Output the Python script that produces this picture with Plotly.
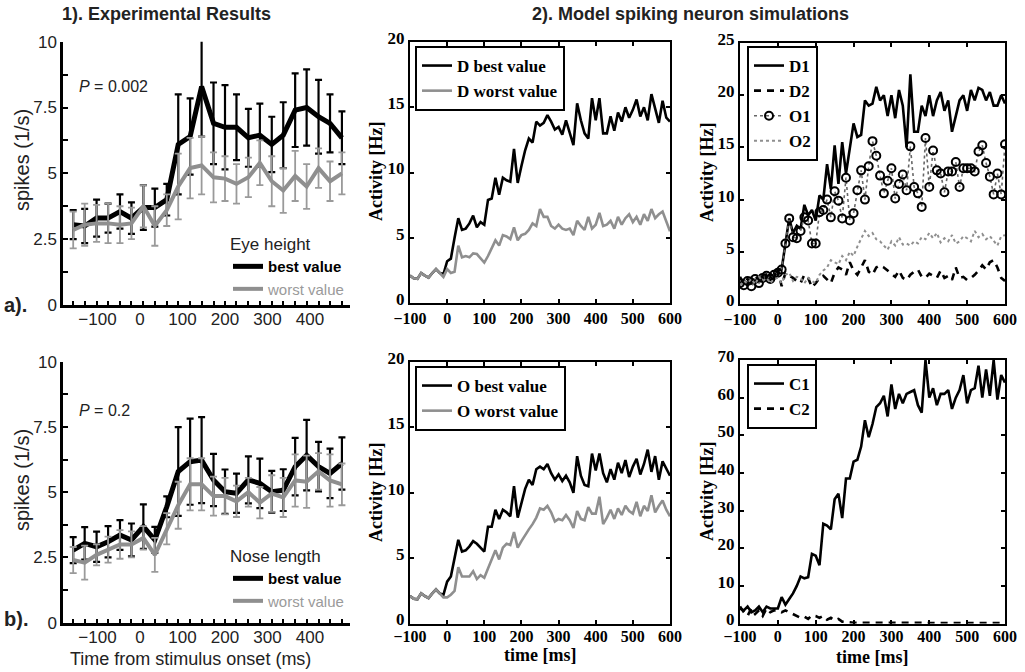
import plotly.graph_objects as go

W, H = 1025, 672

# ---------------- experimental data (mean firing rate, error) ----------------
T_EXP = [-157, -130, -102, -75, -47, -20, 8, 35, 63, 90, 118, 145,
         173, 200, 227, 255, 282, 310, 337, 365, 392, 420, 447, 475]

EYE_BEST = [3.05, 3.0, 3.3, 3.3, 3.55, 3.3, 3.7, 3.7, 4.0, 6.1, 6.4, 8.3,
            6.9, 6.75, 6.75, 6.35, 6.45, 6.1, 6.45, 7.4, 7.5, 7.15, 6.9, 6.35]
EYE_BEST_ERR = [0.55, 0.65, 0.7, 0.55, 0.65, 0.6, 0.85, 0.72, 0.6, 1.9, 1.45, 1.9,
                1.55, 1.6, 1.25, 1.1, 1.2, 1.05, 1.25, 1.4, 1.45, 1.4, 1.1, 1.0]
EYE_WORST = [2.85, 3.05, 3.1, 3.1, 3.05, 3.1, 3.75, 3.0, 3.6, 4.5, 5.2, 5.3,
             4.85, 4.8, 4.6, 4.85, 5.4, 4.7, 4.35, 4.9, 4.5, 5.2, 4.7, 5.0]
EYE_WORST_ERR = [0.7, 0.8, 0.7, 0.75, 0.7, 0.6, 0.8, 0.75, 0.6, 1.25, 1.15, 1.1,
                 0.95, 0.85, 0.75, 0.75, 0.85, 0.95, 0.85, 0.95, 0.85, 0.75, 0.75, 0.8]

NOSE_BEST = [2.78, 3.04, 2.91, 3.1, 3.36, 3.17, 3.68, 3.17, 4.44, 5.79, 6.17, 6.23,
             5.47, 5.02, 4.96, 5.47, 5.34, 5.02, 5.08, 5.98, 6.42, 5.98, 5.72, 6.1]
NOSE_BEST_ERR = [0.5, 0.62, 0.58, 0.6, 0.57, 0.63, 0.85, 0.5, 0.4, 1.7, 1.65, 1.65,
                 1.0, 0.85, 0.75, 0.9, 0.95, 0.8, 0.8, 1.1, 1.35, 0.95, 0.95, 1.0]
NOSE_WORST = [2.4, 2.3, 2.6, 2.8, 3.0, 3.0, 3.25, 2.6, 3.6, 4.5, 5.3, 5.3,
              4.85, 4.85, 4.65, 5.0, 4.6, 4.95, 4.8, 5.45, 5.4, 5.8, 5.45, 5.3]
NOSE_WORST_ERR = [0.5, 0.65, 0.4, 0.5, 0.55, 0.5, 0.45, 0.65, 0.6, 0.9, 1.0, 1.0,
                  0.75, 0.7, 0.6, 0.55, 0.6, 0.7, 0.75, 1.0, 1.0, 0.7, 1.0, 0.8]

EXP_XTICKS = [-100, 0, 100, 200, 300, 400]
EXP_YTICKS = [0, 2.5, 5, 7.5, 10]
EXP_YLABELS = ["0", "2.5", "5", "7.5", "10"]

# ---------------- model simulations, sampled every 10 ms ----------------
T_MODEL = list(range(-100, 601, 10))

D_BEST = [2.1, 1.9, 1.85, 2.3, 2.1, 1.95, 2.3, 2.6, 2.3, 2.2,
          3.2, 3.4, 5.0, 6.5, 5.6, 5.7, 6.1, 6.7, 5.8, 6.2,
          6.0, 7.9, 8.0, 9.6, 8.3, 9.6, 9.4, 9.3, 11.8, 9.2,
          10.5, 11.7, 12.6, 12.3, 13.9, 13.6, 13.8, 14.4, 13.9, 13.3,
          13.5, 12.9, 14.0, 13.0, 12.1, 15.3, 14.0, 13.0, 12.6, 15.7,
          14.0, 15.7, 13.0, 13.0, 14.3, 13.2, 14.6, 13.9, 15.0, 14.2,
          14.8, 15.6, 14.3, 15.0, 14.0, 16.0, 15.0, 13.8, 15.5, 14.2, 13.9]
D_WORST = [2.1, 1.9, 1.85, 2.3, 2.1, 1.95, 2.3, 2.6, 2.3, 2.0,
           2.6, 2.3, 2.4, 4.4, 3.5, 3.6, 3.5, 3.8, 3.75, 3.4,
           3.1, 3.6, 4.2, 4.8, 4.4, 5.2, 5.1, 4.9, 5.8, 4.8,
           5.2, 5.3, 5.6, 6.1, 5.9, 7.2, 6.6, 6.6, 5.9, 5.7,
           6.0, 5.7, 5.6, 5.7, 5.2, 6.3, 5.9, 5.6, 6.6, 5.7,
           6.0, 6.9, 5.9, 6.0, 6.3, 5.7, 6.6, 6.0, 6.5, 6.8,
           6.2, 6.6, 6.0, 6.8, 6.3, 7.2, 6.5, 6.8, 7.0, 6.3, 5.5]

O_BEST = [2.1, 1.9, 1.85, 2.3, 2.1, 1.95, 2.3, 2.6, 2.3, 2.2,
          3.2, 3.6, 5.0, 6.4, 5.5, 5.6, 5.9, 6.3, 6.1, 5.8,
          5.5, 7.4, 7.4, 8.7, 8.0, 8.7, 8.5, 8.2, 10.5, 8.1,
          9.3, 10.3, 11.0, 10.6, 11.8, 12.0, 11.8, 12.2, 11.5, 11.0,
          11.4, 10.9, 11.3, 10.8, 10.0, 12.8, 11.3, 10.6, 10.5, 13.0,
          11.7, 13.0, 11.5, 10.8, 11.8, 11.0, 12.3, 11.5, 12.5, 11.2,
          12.0, 12.6, 11.4, 12.2, 13.3, 11.6, 12.8, 11.0, 12.4, 11.8, 11.3]
O_WORST = [2.1, 1.9, 1.85, 2.3, 2.1, 1.95, 2.3, 2.6, 2.3, 2.0,
           2.0, 2.2, 2.5, 4.3, 3.6, 3.6, 3.6, 4.0, 3.4, 3.7,
           3.5, 4.2, 4.9, 5.6, 4.9, 5.8, 6.1, 6.0, 7.0, 5.8,
           6.3, 6.8, 7.2, 7.6, 8.1, 8.8, 8.7, 9.0, 8.5, 7.8,
           8.0, 7.9, 8.3, 7.9, 7.3, 8.6, 8.0, 7.9, 8.9, 8.4,
           8.4, 9.7, 7.6, 8.1, 8.7, 8.0, 8.8, 8.3, 9.0, 8.6,
           8.4, 9.3, 8.2, 9.0, 8.6, 9.8, 8.5, 9.0, 9.4, 8.7, 8.2]

D1 = [2.0, 2.2, 1.8, 2.5, 2.1, 2.3, 2.7, 2.5, 2.9, 2.6,
      3.2, 3.3, 5.8, 8.2, 6.8, 7.5, 7.2, 9.5, 8.5, 9.0,
      8.0, 10.4, 10.0, 13.4, 11.0, 15.2, 11.5, 15.5, 12.5, 15.0,
      17.3, 16.0, 16.2, 19.5, 19.0, 19.2, 20.8, 19.5, 20.0, 18.0,
      20.0, 17.8, 20.5, 19.0, 15.0, 22.0, 16.5, 16.5, 19.0, 18.0,
      20.0, 18.0, 19.5, 20.3, 18.5, 19.5, 16.5, 18.0, 19.5, 20.0,
      18.5, 20.5, 19.5, 20.7, 20.5, 19.5, 20.3, 19.0, 19.0, 20.0, 19.2]
D2 = [2.6, 1.9, 2.4, 1.6, 2.8, 2.2, 2.0, 2.9, 2.3, 2.5,
      3.3, 1.7, 3.0, 2.7, 2.5, 2.2, 2.0, 2.8, 2.5, 1.6,
      2.0, 2.5, 2.7, 2.3, 2.0, 3.0, 3.5, 3.3, 2.8, 4.0,
      3.2, 2.8, 3.5, 4.2, 3.1, 2.8, 3.5, 3.7, 3.5, 3.2,
      2.9, 2.6, 3.2, 2.5, 2.3, 2.8, 3.1, 3.3, 2.6, 2.5,
      2.9, 2.7, 2.5, 3.2, 2.5, 2.7, 2.3, 3.5, 2.5, 2.6,
      2.3, 2.5, 2.8, 3.2, 3.7, 3.3, 4.0, 4.2, 3.5, 2.5, 2.2]
O1 = [2.0, 1.8, 2.2, 1.7, 2.4, 2.0, 2.5, 2.7, 2.4, 2.8,
      3.0, 3.3, 5.8, 8.2, 6.4, 6.3, 7.0, 8.3, 8.0, 5.8,
      5.8, 8.8, 9.0, 10.0, 8.3, 10.8, 9.9, 8.2, 12.1, 8.0,
      8.7, 10.9, 12.8, 10.0, 13.2, 15.6, 14.2, 12.3, 10.6, 11.8,
      13.0, 10.1, 11.5, 12.4, 10.9, 15.1, 11.2, 10.6, 9.3, 15.9,
      11.2, 14.7, 12.8, 12.5, 10.7, 12.7, 12.7, 13.6, 11.2, 13.0,
      13.0, 13.0, 12.7, 14.6, 15.2, 13.5, 12.2, 10.5, 12.5, 10.5, 15.3]
O2 = [1.8, 2.2, 2.0, 2.4, 1.9, 2.6, 2.2, 2.5, 2.0, 2.4,
      2.5, 2.0, 2.8, 3.0, 2.2, 2.6, 2.5, 2.0, 2.5, 2.2,
      2.0, 2.8, 3.2, 3.5, 4.2, 4.0, 3.8, 4.6, 4.2, 5.0,
      4.6, 5.5, 6.2, 7.0, 6.5, 6.8, 6.2, 6.0, 5.6, 5.2,
      6.0, 5.6, 6.4, 5.7, 5.8, 5.6, 6.0, 5.8, 6.4, 6.2,
      6.8, 6.3, 6.8, 5.9, 6.3, 6.0, 6.6, 5.8, 6.0, 6.5,
      6.3, 6.0, 7.0, 6.4, 6.7, 6.2, 6.5, 6.0, 5.6, 6.5, 6.6]

C1 = [4.0, 3.5, 4.5, 3.0, 3.5, 4.5, 3.0, 4.5, 4.0, 4.0,
      4.0, 7.0, 5.0, 6.5, 8.0, 10.0, 12.5, 12.0, 12.3, 18.5,
      18.0, 15.5, 26.5, 26.0, 25.0, 33.0, 34.5, 28.0, 38.5, 38.5,
      43.0, 43.5, 47.0, 54.0, 49.5, 53.0, 57.5, 58.5, 60.5, 55.0,
      63.5, 57.0, 61.0, 58.5, 61.0, 61.5, 62.0, 58.0, 56.0, 70.0,
      60.0, 62.5, 58.0, 61.0, 61.0, 62.0, 57.0, 60.0, 62.0, 66.0,
      58.5, 62.0, 62.5, 68.5, 60.0, 67.5, 60.5, 70.0, 59.5, 66.0, 64.0]
C2 = [4.5, 3.0, 2.0, 4.0, 2.5, 3.5, 2.0, 4.0, 3.0, 3.5,
      3.5, 3.0, 3.5, 3.0, 2.5, 2.0, 1.5, 1.8, 1.2, 2.2,
      2.0, 1.5, 2.0, 1.0, 1.5, 0.8, 1.2, 0.5, 0.3, 0.3,
      0.2, 0.2, 0.1, 0.2, 0.1, 0.1, 0.2, 0.1, 0.1, 0.2,
      0.1, 0.1, 0.2, 0.1, 0.1, 0.1, 0.2, 0.1, 0.1, 0.1,
      0.2, 0.1, 0.1, 0.1, 0.1, 0.2, 0.1, 0.1, 0.1, 0.1,
      0.1, 0.2, 0.1, 0.1, 0.1, 0.1, 0.1, 0.2, 0.1, 0.1, 0.1]

MODEL_XTICKS = [-100, 0, 100, 200, 300, 400, 500, 600]

# ---------------- styling ----------------
SANS = "Liberation Sans, Arial, sans-serif"
SERIF = "Liberation Serif, Times New Roman, serif"
GRAY = "#8f8f8f"
LGRAY = "#9a9a9a"


def px_x(a, b):
    return [a / W, b / W]


def px_y(top, bottom):
    return [1 - bottom / H, 1 - top / H]


fig = go.Figure()


def exp_panel(ax, leg, best, best_err, worst, worst_err):
    xa, ya = "x" + ax, "y" + ax
    fig.add_trace(go.Scatter(
        x=T_EXP, y=best, xaxis=xa, yaxis=ya, mode="lines",
        name="<b>best value</b>", legend=leg,
        line=dict(color="black", width=5),
        error_y=dict(type="data", array=best_err, color="black",
                     thickness=2.2, width=3.5)))
    fig.add_trace(go.Scatter(
        x=T_EXP, y=worst, xaxis=xa, yaxis=ya, mode="lines",
        name="<span style='color:%s'>worst value</span>" % LGRAY, legend=leg,
        line=dict(color=GRAY, width=4),
        error_y=dict(type="data", array=worst_err, color=LGRAY,
                     thickness=1.8, width=3.5)))


exp_panel("", "legend", EYE_BEST, EYE_BEST_ERR, EYE_WORST, EYE_WORST_ERR)
exp_panel("4", "legend4", NOSE_BEST, NOSE_BEST_ERR, NOSE_WORST, NOSE_WORST_ERR)

# middle column: D and O units
fig.add_trace(go.Scatter(x=T_MODEL, y=D_BEST, xaxis="x2", yaxis="y2", mode="lines",
                         name="D best value", legend="legend2",
                         line=dict(color="black", width=2.6)))
fig.add_trace(go.Scatter(x=T_MODEL, y=D_WORST, xaxis="x2", yaxis="y2", mode="lines",
                         name="D worst value", legend="legend2",
                         line=dict(color=GRAY, width=2.6)))
fig.add_trace(go.Scatter(x=T_MODEL, y=O_BEST, xaxis="x5", yaxis="y5", mode="lines",
                         name="O best value", legend="legend5",
                         line=dict(color="black", width=2.6)))
fig.add_trace(go.Scatter(x=T_MODEL, y=O_WORST, xaxis="x5", yaxis="y5", mode="lines",
                         name="O worst value", legend="legend5",
                         line=dict(color=GRAY, width=2.6)))

# right column: population units
fig.add_trace(go.Scatter(x=T_MODEL, y=D1, xaxis="x3", yaxis="y3", mode="lines",
                         name="D1", legend="legend3",
                         line=dict(color="black", width=2.6)))
fig.add_trace(go.Scatter(x=T_MODEL, y=D2, xaxis="x3", yaxis="y3", mode="lines",
                         name="D2", legend="legend3",
                         line=dict(color="black", width=2.6, dash="7px,6px")))
fig.add_trace(go.Scatter(x=T_MODEL, y=O1, xaxis="x3", yaxis="y3", mode="lines+markers",
                         name="O1", legend="legend3",
                         line=dict(color="#666666", width=1.6, dash="dot"),
                         marker=dict(symbol="circle-open", size=8, color="black",
                                     line=dict(width=2, color="black"))))
fig.add_trace(go.Scatter(x=T_MODEL, y=O2, xaxis="x3", yaxis="y3", mode="lines",
                         name="O2", legend="legend3",
                         line=dict(color=GRAY, width=2, dash="dot")))
fig.add_trace(go.Scatter(x=T_MODEL, y=C1, xaxis="x6", yaxis="y6", mode="lines",
                         name="C1", legend="legend6",
                         line=dict(color="black", width=2.6)))
fig.add_trace(go.Scatter(x=T_MODEL, y=C2, xaxis="x6", yaxis="y6", mode="lines",
                         name="C2", legend="legend6",
                         line=dict(color="black", width=2.6, dash="7px,6px")))

# ---------------- axes ----------------
exp_x = dict(range=[-181, 494], tickvals=EXP_XTICKS, ticks="", showline=True,
             linecolor="black", linewidth=2.5, showgrid=False, zeroline=False,
             automargin=False, ticklabelstandoff=-3,
             tickfont=dict(family=SANS, size=17, color="#222"),
             minor=dict(tickvals=T_EXP, ticks="inside", ticklen=4,
                        tickcolor="black", tickwidth=1.5))
exp_y = dict(range=[0, 10], tickvals=EXP_YTICKS, ticktext=EXP_YLABELS,
             ticks="inside", ticklen=5, tickwidth=1.5, tickcolor="black",
             showline=True, linecolor="black", linewidth=2.5, showgrid=False,
             zeroline=False, automargin=False,
             tickfont=dict(family=SANS, size=17, color="#222"),
             minor=dict(dtick=1.25, tick0=0, ticks="inside", ticklen=5,
                        tickcolor="black", tickwidth=1.5))


def model_x(domain, anchor, standoff):
    return dict(domain=domain, anchor=anchor, range=[-100, 600], tickvals=MODEL_XTICKS,
                ticks="inside", ticklen=4, tickwidth=1.5, tickcolor="black",
                mirror="ticks", showline=True, linecolor="black", linewidth=2,
                showgrid=False, zeroline=False, automargin=False,
                ticklabelstandoff=standoff,
                tickfont=dict(family=SERIF, size=16, color="black", weight="bold"))


def model_y(domain, anchor, top, step):
    return dict(domain=domain, anchor=anchor, range=[0, top], dtick=step, tick0=0,
                ticks="inside", ticklen=4, tickwidth=1.5, tickcolor="black",
                mirror="ticks", showline=True, linecolor="black", linewidth=2,
                showgrid=False, zeroline=False, automargin=False,
                ticklabelshift=-4,
                tickfont=dict(family=SERIF, size=17, color="black", weight="bold"))


fig.update_layout(
    xaxis=dict(domain=px_x(63, 350), anchor="y", **exp_x),
    yaxis=dict(domain=px_y(41.7, 305), anchor="x", **exp_y),
    xaxis4=dict(domain=px_x(63, 350), anchor="y4", **exp_x),
    yaxis4=dict(domain=px_y(361.7, 622.7), anchor="x4", **exp_y),
    xaxis2=model_x(px_x(410, 670), "y2", 0),
    yaxis2=model_y(px_y(42, 303), "x2", 20, 5),
    xaxis5=model_x(px_x(410, 670), "y5", -3),
    yaxis5=model_y(px_y(362, 623.5), "x5", 20, 5),
    xaxis3=model_x(px_x(740, 1005), "y3", 0),
    yaxis3=model_y(px_y(43, 304), "x3", 25, 5),
    xaxis6=model_x(px_x(740, 1005), "y6", -3),
    yaxis6=model_y(px_y(360, 623.5), "x6", 70, 10),
)


# ---------------- legends ----------------
def exp_legend(x_px, y_px, title):
    return dict(x=x_px / W, y=1 - y_px / H, xanchor="left", yanchor="top",
                bgcolor="rgba(0,0,0,0)", borderwidth=0, itemwidth=30,
                tracegroupgap=0, itemclick=False,
                title=dict(text=title, font=dict(family=SANS, size=17, color="#222")),
                font=dict(family=SANS, size=15, color="black"))


def model_legend(x_px, y_px):
    return dict(x=x_px / W, y=1 - y_px / H, xanchor="left", yanchor="top",
                bgcolor="white", bordercolor="black", borderwidth=2, itemwidth=30,
                tracegroupgap=0, itemclick=False,
                font=dict(family=SERIF, size=17, color="black", weight="bold"))


fig.update_layout(
    legend=exp_legend(228, 228, "Eye height"),
    legend4=exp_legend(228, 540, "Nose length"),
    legend2=model_legend(415, 46),
    legend5=model_legend(415, 366),
    legend3=model_legend(747, 46),
    legend6=model_legend(747, 364),
)

# ---------------- text ----------------
ann = []


def text(x_px, y_px, s, size, family=SANS, bold=False, angle=0, xanchor="center",
         color="black"):
    ann.append(dict(x=x_px / W, y=1 - y_px / H, xref="paper", yref="paper",
                    text=("<b>%s</b>" % s) if bold else s, showarrow=False,
                    textangle=angle, xanchor=xanchor, yanchor="middle",
                    font=dict(family=family, size=size, color=color)))


text(166, 14, "1). Experimental Results", 18, bold=True, color="#222")
text(690, 14, "2). Model spiking neuron simulations", 18, bold=True, color="#222")
text(77, 87, "<i>P</i> = 0.002", 16, xanchor="left", color="#222")
text(77, 410, "<i>P</i> = 0.2", 16, xanchor="left", color="#222")
text(2, 305, "a).", 20, bold=True, xanchor="left", color="#222")
text(2, 619, "b).", 20, bold=True, xanchor="left", color="#222")
text(22, 160, "spikes (1/s)", 20, angle=-90, color="#222")
text(22, 480, "spikes (1/s)", 20, angle=-90, color="#222")
text(190, 659, "Time from stimulus onset (ms)", 18, color="#222")
for xp, yp in [(376, 172), (376, 493), (707, 173), (707, 492)]:
    text(xp, yp, "Activity [Hz]", 18, family=SERIF, bold=True, angle=-90)
text(540, 655, "time [ms]", 18, family=SERIF, bold=True)
text(872, 657, "time [ms]", 18, family=SERIF, bold=True)

fig.update_layout(
    annotations=ann,
    width=W, height=H, autosize=False,
    margin=dict(l=0, r=0, t=0, b=0),
    paper_bgcolor="white", plot_bgcolor="white",
    showlegend=True,
)

fig.write_html("out.html", include_plotlyjs=True, config=dict(displayModeBar=False))
